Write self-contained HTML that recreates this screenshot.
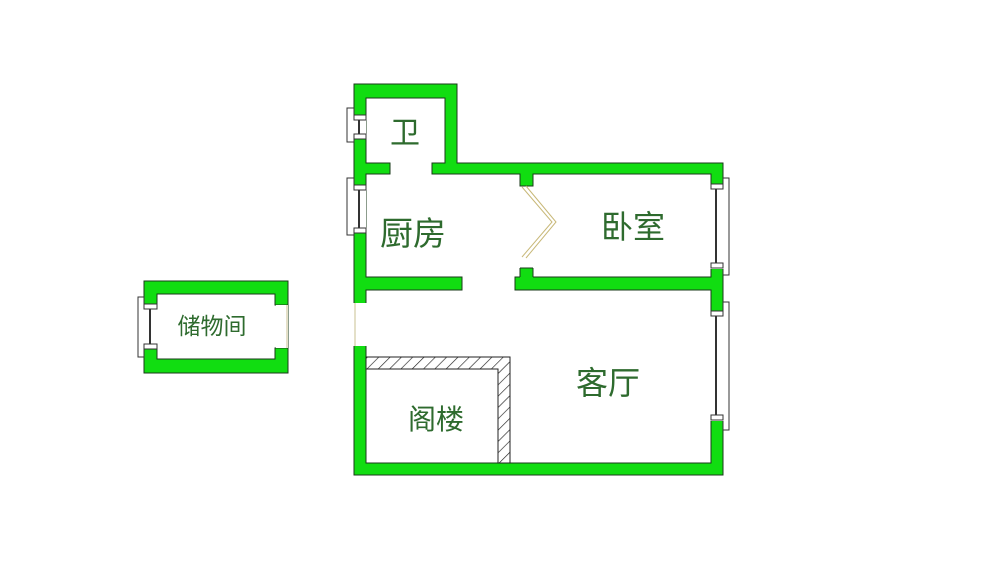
<!DOCTYPE html>
<html><head><meta charset="utf-8"><style>
html,body{margin:0;padding:0;background:#fff;width:1000px;height:582px;overflow:hidden}
text{font-family:"Liberation Sans","Noto Sans CJK SC",sans-serif;fill:#2e6b2e}
</style></head><body>
<svg width="1000" height="582" viewBox="0 0 1000 582" xmlns="http://www.w3.org/2000/svg">
<defs>
<pattern id="h" width="8" height="8" patternUnits="userSpaceOnUse" patternTransform="rotate(45)">
<rect width="8" height="8" fill="#fff"/><line x1="0" y1="0" x2="0" y2="8" stroke="#222" stroke-width="1.3"/>
</pattern>
</defs>
<g fill="#11dd11" stroke="#1a3a1a" stroke-width="1">
<!-- bathroom outer -->
<path d="M354,84 H457 V163 H723 V475 H354 Z M366,98 V163 H390 V174 H366 V277 H462 V290 H366 V463 H711 V290 H515 V277 H711 V174 H533 V186 H520 V174 H432 V163 H445 V98 Z" fill-rule="evenodd"/>
<!-- lower pillar -->
<rect x="520" y="268" width="13" height="10" stroke="none"/>
<!-- storage -->
<path d="M144,281 H288 V373 H144 Z M157,294 V359 H275 V348 H288 V305 H275 V294 Z" fill-rule="evenodd"/>
</g>
<line x1="520" y1="268" x2="533" y2="268" stroke="#1a3a1a"/>
<line x1="520" y1="268" x2="520" y2="277" stroke="#1a3a1a"/>
<line x1="533" y1="268" x2="533" y2="277" stroke="#1a3a1a"/>
<!-- storage opening line -->
<rect x="276" y="305" width="12" height="43" fill="#fff"/>
<line x1="287" y1="305" x2="287" y2="348" stroke="#c8c090" stroke-width="1"/>
<!-- left door gap -->
<rect x="353" y="303" width="14" height="43" fill="#fff"/>
<line x1="355" y1="303" x2="355" y2="346" stroke="#c8c090" stroke-width="1"/>
<!-- attic hatch -->
<path d="M366,357 H510 V463 H498 V369 H366 Z" fill="url(#h)" stroke="#222" stroke-width="1"/>
<!-- door swing -->
<polyline points="522,187 552,222 522,257" fill="none" stroke="#c8b878" stroke-width="1"/>
<polyline points="526,186 556,222 526,258" fill="none" stroke="#c8b878" stroke-width="1"/>
<!-- windows -->
<g stroke="#333" stroke-width="1" fill="#fff">
<!-- bath window -->
<rect x="347" y="108" width="7" height="34"/>
<rect x="353" y="117" width="13" height="21" stroke="none"/>
<rect x="354" y="115" width="12" height="5"/><rect x="354" y="134" width="12" height="5"/>
<line x1="359" y1="120" x2="359" y2="134" stroke-width="2"/>
<!-- kitchen window -->
<rect x="347" y="178" width="7" height="57"/>
<rect x="353" y="186" width="13" height="46" stroke="none"/>
<rect x="354" y="185" width="12" height="5"/><rect x="354" y="228" width="12" height="5"/>
<line x1="359" y1="190" x2="359" y2="228" stroke-width="2"/>
<!-- bedroom window -->
<rect x="723" y="178" width="6" height="97"/>
<rect x="710" y="187" width="14" height="82" stroke="none"/>
<rect x="711" y="184" width="12" height="5"/><rect x="711" y="263" width="12" height="5"/>
<line x1="716" y1="189" x2="716" y2="263" stroke-width="2"/>
<!-- living window -->
<rect x="723" y="302" width="6" height="128"/>
<rect x="710" y="311" width="14" height="110" stroke="none"/>
<rect x="711" y="311" width="12" height="5"/><rect x="711" y="415" width="12" height="5"/>
<line x1="716" y1="316" x2="716" y2="415" stroke-width="2"/>
<!-- storage window -->
<rect x="138" y="297" width="6" height="60"/>
<rect x="143" y="305" width="15" height="44" stroke="none"/>
<rect x="144" y="304" width="13" height="5"/><rect x="144" y="344" width="13" height="5"/>
<line x1="150" y1="309" x2="150" y2="344" stroke-width="2"/>
</g>
<text x="405" y="143" font-size="30" text-anchor="middle">卫</text>
<text x="413" y="245" font-size="33" text-anchor="middle">厨房</text>
<text x="633" y="238" font-size="32" text-anchor="middle">卧室</text>
<text x="608" y="394" font-size="32" text-anchor="middle">客厅</text>
<text x="436" y="429" font-size="28" text-anchor="middle">阁楼</text>
<text x="212" y="334" font-size="23" text-anchor="middle">储物间</text>
</svg>
</body></html>
